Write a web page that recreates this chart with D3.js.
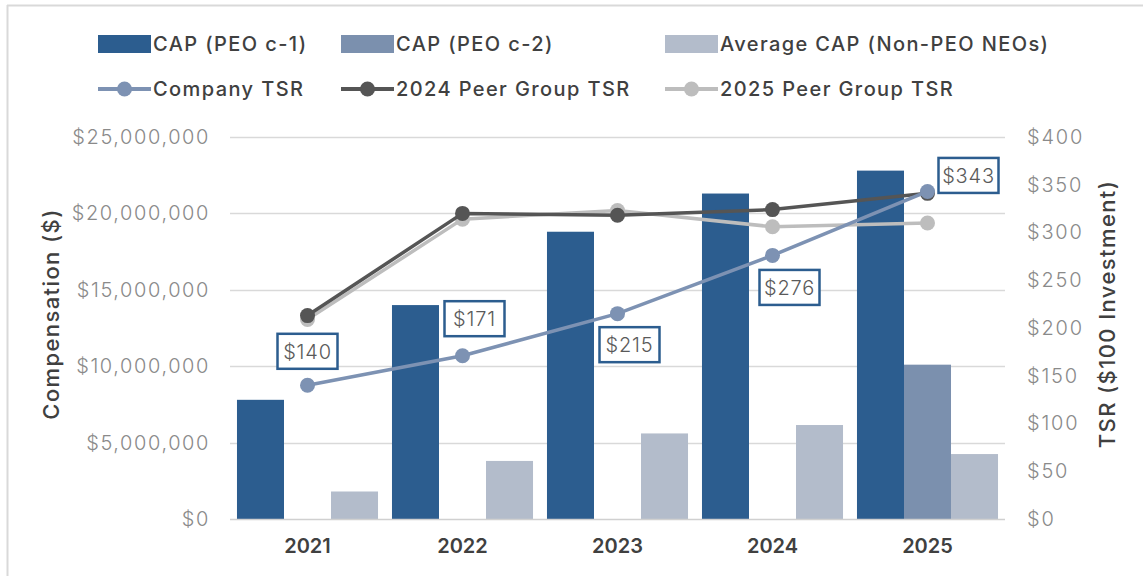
<!DOCTYPE html>
<html>
<head>
<meta charset="utf-8">
<script src="https://cdn.jsdelivr.net/npm/d3@7/dist/d3.min.js"></script>
<style>
  html, body { margin: 0; padding: 0; background: #fff; }
  svg { display: block; }
  text { font-family: Inter, "Open Sans", sans-serif; }
</style>
</head>
<body>
<svg id="chart" width="1143" height="576"></svg>
<script>
// ---------------- DATA ----------------
const years = ["2021", "2022", "2023", "2024", "2025"];
const capPeo1 = [7800000, 14000000, 18800000, 21300000, 22800000];
const capPeo2 = [null, null, null, null, 10100000];
const capNonPeo = [1800000, 3800000, 5600000, 6150000, 4250000];
const companyTSR = [140, 171, 215, 276, 343];
const peer2024TSR = [213, 320, 318, 324, 341];
const peer2025TSR = [209, 314, 323, 306, 310];
const compTicks = [0, 5000000, 10000000, 15000000, 20000000, 25000000];
const tsrTicks = [0, 50, 100, 150, 200, 250, 300, 350, 400];
const barSeriesNames = ["CAP (PEO c-1)", "CAP (PEO c-2)", "Average CAP (Non-PEO NEOs)"];
const lineSeriesNames = ["Company TSR", "2024 Peer Group TSR", "2025 Peer Group TSR"];

// ---------------- STYLE / LAYOUT ----------------
const barColors = ["#2c5d8f", "#7b90ae", "#b3bccb"];
const lineColors = ["#7d92b3", "#555555", "#bdbdbd"];
const plot = { left: 230, right: 1005, top: 137, bottom: 519 };
// label box offsets relative to point (layout only)
const labelOffsets = [[0, -34], [12, -37], [12, 31], [17, 32], [41, -16]];

const svg = d3.select("#chart");

// frame
svg.append("line").attr("x1", 7).attr("x2", 1143).attr("y1", 5.5).attr("y2", 5.5)
  .attr("stroke", "#d9d9d9").attr("stroke-width", 2);
svg.append("line").attr("x1", 7.5).attr("x2", 7.5).attr("y1", 5).attr("y2", 576)
  .attr("stroke", "#d9d9d9").attr("stroke-width", 2);

const x = d3.scaleBand().domain(years).range([plot.left, plot.right])
  .paddingInner(0.09).paddingOuter(0.045);
const xi = d3.scaleBand().domain([0, 1, 2]).range([0, x.bandwidth()]).padding(0);
const y = d3.scaleLinear().domain([0, 25000000]).range([plot.bottom, plot.top]);
const y2 = d3.scaleLinear().domain([0, 400]).range([plot.bottom, plot.top]);

// gridlines
svg.append("g").selectAll("line").data(compTicks.filter(d => d > 0)).join("line")
  .attr("x1", plot.left).attr("x2", plot.right)
  .attr("y1", d => Math.round(y(d)) + 0.5).attr("y2", d => Math.round(y(d)) + 0.5)
  .attr("stroke", "#d9d9d9").attr("stroke-width", 1.5);

// left axis
const leftAxis = d3.axisLeft(y).tickValues(compTicks)
  .tickFormat(d => "$" + d3.format(",")(d)).tickSize(0).tickPadding(20);
const gl = svg.append("g").attr("transform", `translate(${plot.left},0)`).call(leftAxis);
gl.select(".domain").remove();
gl.selectAll("text").attr("fill", "#8a8a8a").attr("font-size", 20).attr("font-weight", 300)
  .attr("letter-spacing", 1.6).style("font-family", "Inter, sans-serif");

// right axis
const rightAxis = d3.axisRight(y2).tickValues(tsrTicks)
  .tickFormat(d => "$" + d).tickSize(0).tickPadding(22);
const gr = svg.append("g").attr("transform", `translate(${plot.right},0)`).call(rightAxis);
gr.select(".domain").remove();
gr.selectAll("text").attr("fill", "#8a8a8a").attr("font-size", 20).attr("font-weight", 300)
  .attr("letter-spacing", 1.8);

// bars
const barSeries = [capPeo1, capPeo2, capNonPeo];
const barData = [];
years.forEach((yr, i) => barSeries.forEach((s, k) => {
  if (s[i] != null) barData.push({ yr, k, v: s[i] });
}));
svg.append("g").selectAll("rect").data(barData).join("rect")
  .attr("x", d => x(d.yr) + xi(d.k))
  .attr("width", xi.bandwidth())
  .attr("y", d => y(d.v))
  .attr("height", d => y(0) - y(d.v))
  .attr("fill", d => barColors[d.k]);

// baseline
svg.append("line").attr("x1", plot.left).attr("x2", plot.right)
  .attr("y1", plot.bottom + 0.5).attr("y2", plot.bottom + 0.5)
  .attr("stroke", "#d0d0d0").attr("stroke-width", 1.5);

// x axis labels
const bottomAxis = d3.axisBottom(x).tickSize(0).tickPadding(20);
const gb = svg.append("g").attr("transform", `translate(0,${plot.bottom})`).call(bottomAxis);
gb.select(".domain").remove();
gb.selectAll("text").attr("fill", "#404040").attr("font-size", 20).attr("font-weight", 600);

// lines (draw light peer first, then dark peer, then company)
const lineSeries = [companyTSR, peer2024TSR, peer2025TSR];
const cx = yr => x(yr) + x.bandwidth() / 2;
const lineGen = d3.line().x(d => cx(d.yr)).y(d => y2(d.v));
[2, 1, 0].forEach(k => {
  const pts = years.map((yr, i) => ({ yr, v: lineSeries[k][i] }));
  const g = svg.append("g");
  g.append("path").datum(pts).attr("d", lineGen).attr("fill", "none")
    .attr("stroke", lineColors[k]).attr("stroke-width", 3.5);
  g.selectAll("circle").data(pts).join("circle")
    .attr("cx", d => cx(d.yr)).attr("cy", d => y2(d.v)).attr("r", 7.5)
    .attr("fill", lineColors[k]);
});

// company TSR labels
const lg = svg.append("g");
years.forEach((yr, i) => {
  const px = cx(yr) + labelOffsets[i][0];
  const py = y2(companyTSR[i]) + labelOffsets[i][1];
  const w = 60, h = 35;
  lg.append("rect").attr("x", px - w / 2).attr("y", py - h / 2).attr("width", w).attr("height", h)
    .attr("fill", "#fff").attr("stroke", "#2c5d8f").attr("stroke-width", 2.5);
  lg.append("text").attr("x", px).attr("y", py).attr("dy", "0.36em").attr("text-anchor", "middle")
    .attr("fill", "#5a5a5a").attr("font-size", 20).attr("font-weight", 300)
    .attr("letter-spacing", 0.8)
    .text("$" + companyTSR[i]);
});

// axis titles
svg.append("text").attr("transform", `translate(51,314) rotate(-90)`)
  .attr("text-anchor", "middle").attr("dy", "0.35em")
  .attr("fill", "#404040").attr("font-size", 22).attr("font-weight", 500)
  .attr("letter-spacing", 1.4)
  .text("Compensation ($)");
svg.append("text").attr("transform", `translate(1107,314) rotate(-90)`)
  .attr("text-anchor", "middle").attr("dy", "0.35em")
  .attr("fill", "#404040").attr("font-size", 22).attr("font-weight", 500)
  .attr("letter-spacing", 1.4)
  .text("TSR ($100 Investment)");

// legend
const legX = [98, 341, 665];
const leg = svg.append("g");
barSeriesNames.forEach((name, k) => {
  leg.append("rect").attr("x", legX[k]).attr("y", 35).attr("width", 53).attr("height", 18)
    .attr("fill", barColors[k]);
  leg.append("text").attr("x", legX[k] + 55).attr("y", 44).attr("dy", "0.36em")
    .attr("fill", "#404040").attr("font-size", 20).attr("font-weight", 500)
    .attr("letter-spacing", 1.4).text(name);
});
lineSeriesNames.forEach((name, k) => {
  leg.append("line").attr("x1", legX[k]).attr("x2", legX[k] + 53).attr("y1", 89).attr("y2", 89)
    .attr("stroke", lineColors[k]).attr("stroke-width", 4);
  leg.append("circle").attr("cx", legX[k] + 26.5).attr("cy", 89).attr("r", 7.5).attr("fill", lineColors[k]);
  leg.append("text").attr("x", legX[k] + 55).attr("y", 89).attr("dy", "0.36em")
    .attr("fill", "#404040").attr("font-size", 20).attr("font-weight", 500)
    .attr("letter-spacing", 1.4).text(name);
});
</script>
</body>
</html>
